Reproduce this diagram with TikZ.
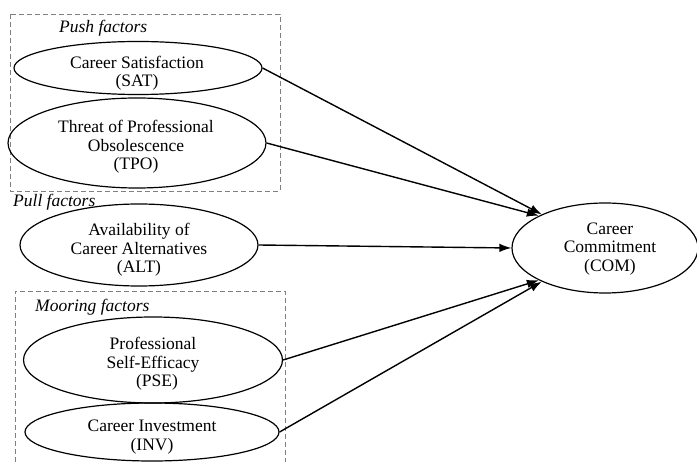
\documentclass[tikz,border=0pt]{standalone}
\usepackage{fontspec}
\setmainfont{Liberation Serif}
\usetikzlibrary{shapes.geometric,arrows.meta}
\begin{document}
\begin{tikzpicture}[x=1pt,y=-1pt,
  construct/.style={draw,ellipse,line width=1.2pt,inner sep=0pt},
  caption/.style={align=center,font=\fontsize{17.5}{18.5}\selectfont,inner sep=0pt},
  group/.style={draw=black!50,dash pattern=on 5pt off 3pt,line width=0.8pt},
  grouptitle/.style={font=\fontsize{17.5}{18.5}\selectfont\itshape,anchor=west,inner sep=0pt},
  effect/.style={line width=1.4pt,-{Latex[length=12pt,width=8.5pt]}}]
\clip (0,0) rectangle (697,462);
\fill[white] (0,0) rectangle (697,462);

% factor groups
\draw[group] (10,14) rectangle (280,191);
\draw[group] (15,470) -- (15,291) -- (285,291) -- (285,470);
\node[grouptitle] (tpush) at (59,28) {Push factors};
\node[grouptitle] (tpull) at (13,202) {Pull factors};
\node[grouptitle] (tmoor) at (35,307) {Mooring factors};

% constructs
\node[construct,minimum width=248pt,minimum height=53pt] (sat) at (138,68) {};
\node[construct,minimum width=258pt,minimum height=90pt] (tpo) at (137,143) {};
\node[construct,minimum width=238pt,minimum height=82pt] (alt) at (139,245) {};
\node[construct,minimum width=259pt,minimum height=86pt] (pse) at (153,360) {};
\node[construct,minimum width=254pt,minimum height=58pt] (inv) at (152,432) {};
\node[construct,minimum width=186pt,minimum height=90pt] (com) at (605,248) {};

\node[caption] (lsat) at (137,73) {Career Satisfaction\\(SAT)};
\node[caption] (ltpo) at (136,147) {Threat of Professional\\Obsolescence\\(TPO)};
\node[caption] (lalt) at (139,250) {Availability of\\Career Alternatives\\(ALT)};
\node[caption] (lpse) at (153,364) {Professional\\Self-Efficacy\\\hspace*{8pt}(PSE)};
\node[caption] (linv) at (152,437) {Career Investment\\(INV)};
\node[caption] (lcom) at (610,249) {Career\\Commitment\\(COM)};

% hypothesised effects
\draw[effect] (sat.east) -- (com.152);
\draw[effect] (tpo.east) -- (com.154);
\draw[effect] (alt.east) -- (com.west);
\draw[effect] (pse.east) -- (com.206);
\draw[effect] (inv.east) -- (com.208);
\end{tikzpicture}
\end{document}
